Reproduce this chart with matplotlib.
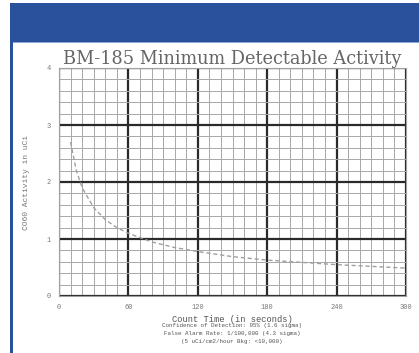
import matplotlib
matplotlib.use("Agg")
import matplotlib.pyplot as plt
from matplotlib.patches import Rectangle
import numpy as np

# values
count_time = [10, 15, 20, 30, 40, 50, 60, 80, 100, 120, 150, 180, 210, 240, 270, 300]
mda = [2.70, 2.20, 1.90, 1.55, 1.34, 1.20, 1.10, 0.95, 0.85, 0.78, 0.69, 0.63, 0.59, 0.55, 0.52, 0.49]
x_ticks = [0, 60, 120, 180, 240, 300]
y_ticks = [0, 1, 2, 3, 4]
notes = ["Confidence of Detection: 95% (1.6 sigma)",
         "False Alarm Rate: 1/100,000 (4.3 sigma)",
         "(5 uCi/cm2/hour Bkg: <10,000)"]

mono = "Liberation Mono"
txt = "#555555"
blue = "#2a519b"

fig = plt.figure(figsize=(4.19, 3.53), dpi=100)
fig.patch.set_facecolor("white")

# blue header band and left border
fig.patches.append(Rectangle((10/419, 311/353), 409/419, 39/353, transform=fig.transFigure,
                             facecolor=blue, edgecolor="none"))
fig.patches.append(Rectangle((10/419, 310/353), 409/419, 1.2/353, transform=fig.transFigure,
                             facecolor="#8fa6d2", edgecolor="none"))
fig.patches.append(Rectangle((10/419, 0), 3/419, 311/353, transform=fig.transFigure,
                             facecolor=blue, edgecolor="none"))

ax = fig.add_axes([59/419, 57/353, 347/419, 228/353])
ax.set_xlim(0, 300)
ax.set_ylim(0, 4)

# graph paper grid
for xv in np.arange(0, 301, 10):
    major = xv % 60 == 0
    ax.axvline(xv, color="#2a2a2a" if major else "#a8a8a8", lw=1.6 if major else 0.7, zorder=1)
for yv in np.arange(0, 4.01, 0.2):
    major = abs(yv - round(yv)) < 1e-6
    ax.axhline(yv, color="#2a2a2a" if major else "#a8a8a8", lw=1.6 if major else 0.7, zorder=1)

ax.plot(count_time, mda, color="#a0a0a0", lw=1, ls=(0, (3, 2)), zorder=3)

for s in ax.spines.values():
    s.set_color("#a0a0a0")
    s.set_linewidth(0.8)

ax.set_xticks(x_ticks)
ax.set_yticks(y_ticks)
ax.tick_params(length=0, labelsize=5, labelcolor="#777777", pad=6)
for lab in ax.get_xticklabels() + ax.get_yticklabels():
    lab.set_family(mono)

ax.set_title("BM-185 Minimum Detectable Activity", family="DejaVu Serif", fontsize=12.8,
             color="#666666", pad=3)
ax.set_ylabel("CO60 Activity in uCi", family=mono, fontsize=5.8, color="#777777", labelpad=12)
ax.set_xlabel("Count Time (in seconds)", family=mono, fontsize=6.3, color=txt, labelpad=3)

for i, line in enumerate(notes):
    fig.text(232/419, 1 - (326 + 8*i)/353, line, family=mono, fontsize=4.2,
             color=txt, ha="center", va="center")

fig.savefig("out.png", dpi=100, facecolor="white")
